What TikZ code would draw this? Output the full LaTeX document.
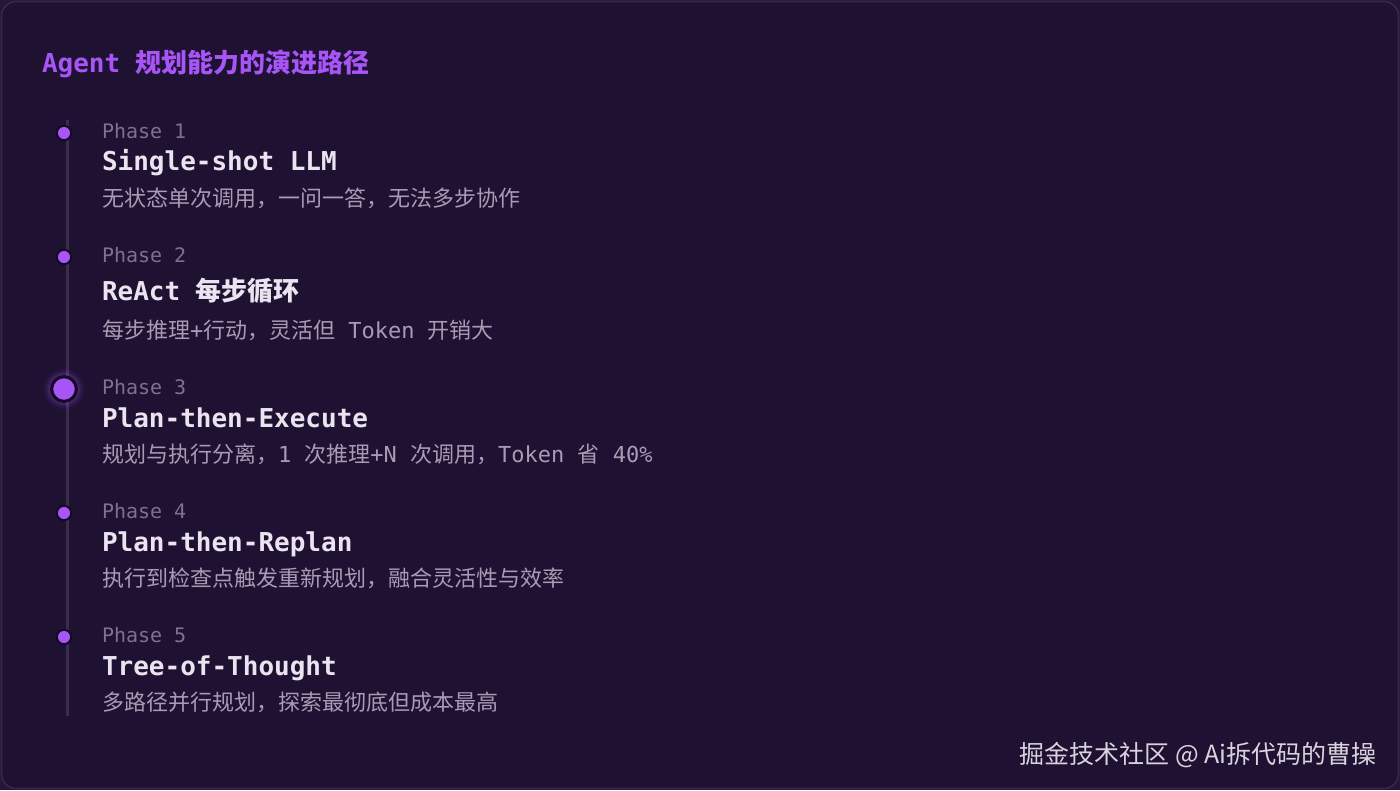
\documentclass[tikz,border=0pt]{standalone}
\usepackage{fontspec}
\setmainfont{DejaVu Sans Mono}
\newfontfamily\cjk{Noto Sans CJK SC}
\definecolor{outerbg}{HTML}{241636}
\definecolor{bg}{HTML}{1E1131}
\definecolor{bordercol}{HTML}{362849}
\definecolor{accent}{HTML}{A855F7}
\definecolor{ringcol}{HTML}{140A22}
\definecolor{linecol}{HTML}{3A2C4F}
\definecolor{labcol}{HTML}{7D7090}
\definecolor{titcol}{HTML}{EBE3EF}
\definecolor{desccol}{HTML}{A89CB4}
\definecolor{markcol}{HTML}{DAD2DE}
\tikzset{
  txt/.style={inner sep=0pt, outer sep=0pt, anchor=base west},
  maintitle/.style={txt, text=accent, font=\fontsize{19.5pt}{22pt}\selectfont\bfseries},
  lab/.style={txt, text=labcol, font=\fontsize{15pt}{18pt}\selectfont},
  ptitle/.style={txt, text=titcol, font=\fontsize{19.5pt}{22pt}\selectfont\bfseries},
  desc/.style={txt, text=desccol, font=\fontsize{16.5pt}{20pt}\selectfont},
  dot/.style={circle, inner sep=0pt, minimum size=10.8pt, fill=accent, draw=ringcol, line width=1.5pt},
  bigdot/.style={circle, inner sep=0pt, minimum size=18.5pt, fill=accent, draw=ringcol, line width=2.25pt},
}
\newcommand\C[1]{{\cjk #1}}
\begin{document}
\begin{tikzpicture}[x=0.75pt,y=-0.75pt]
\useasboundingbox (0,0) rectangle (1400,790);
\fill[outerbg] (0,0) rectangle (1400,790);
\draw[bordercol, fill=bg, line width=1.2pt, rounded corners=11pt] (1.5,1.5) rectangle (1398.5,788.5);

\node[maintitle] (title) at (42,72) {Agent \C{规划能力的演进路径}};

% timeline
\coordinate (ltop) at (67.5,120);
\coordinate (lbot) at (67.5,716);
\draw[linecol, line width=2.25pt] (ltop) -- (lbot);

% glow for phase 3
\foreach \r/\o in {21/0.04,19/0.06,17.5/0.08,16/0.12}{
  \fill[accent, opacity=\o] (64,389) circle (\r);
}

\node[dot] (d1) at (64,133) {};
\node[dot] (d2) at (64,257) {};
\node[bigdot] (d3) at (64,389) {};
\node[dot] (d4) at (64,513) {};
\node[dot] (d5) at (64,637) {};

% Phase 1
\node[lab] (l1) at (102,138) {Phase 1};
\node[ptitle] (t1) at (102,170) {Single-shot LLM};
\node[desc] (s1) at (102,206) {\C{无状态单次调用，一问一答，无法多步协作}};

% Phase 2
\node[lab] (l2) at (102,262) {Phase 2};
\node[ptitle] (t2) at (102,300) {ReAct \C{每步循环}};
\node[desc] (s2) at (102,338) {\C{每步推理}+\C{行动，灵活但} Token \C{开销大}};

% Phase 3
\node[lab] (l3) at (102,394) {Phase 3};
\node[ptitle] (t3) at (102,427) {Plan-then-Execute};
\node[desc] (s3) at (102,462) {\C{规划与执行分离，}1 \C{次推理}+N \C{次调用，}Token \C{省} 40\%};

% Phase 4
\node[lab] (l4) at (102,518) {Phase 4};
\node[ptitle] (t4) at (102,551) {Plan-then-Replan};
\node[desc] (s4) at (102,586) {\C{执行到检查点触发重新规划，融合灵活性与效率}};

% Phase 5
\node[lab] (l5) at (102,642) {Phase 5};
\node[ptitle] (t5) at (102,675) {Tree-of-Thought};
\node[desc] (s5) at (102,710) {\C{多路径并行规划，探索最彻底但成本最高}};

% watermark
\node[inner sep=0pt, anchor=base east, text=markcol, font=\cjk\fontsize{18.75pt}{22pt}\selectfont] (wm) at (1377,763) {掘金技术社区 @ Ai拆代码的曹操};
\end{tikzpicture}
\end{document}
